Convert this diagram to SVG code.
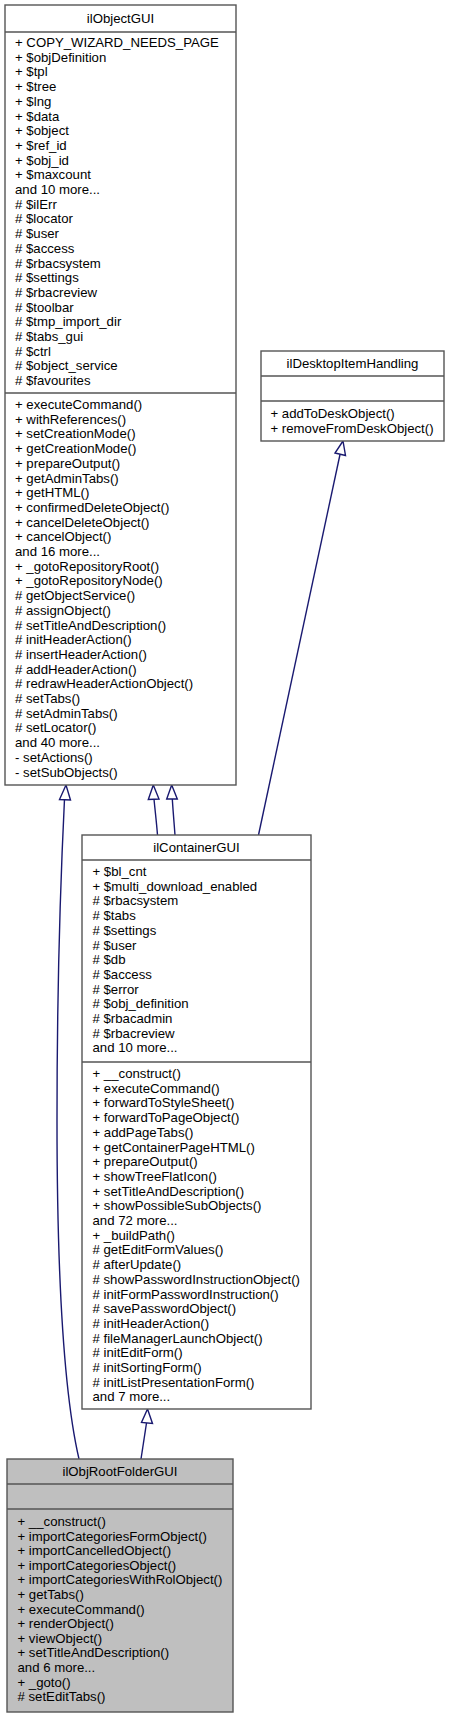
<svg xmlns="http://www.w3.org/2000/svg" width="450" height="1717" viewBox="0 0 450 1717">
<style>
.box{fill:#ffffff;stroke:#555555;stroke-width:1.4}
.root{fill:#bfbfbf;stroke:#555555;stroke-width:1.4}
.sep{stroke:#555555;stroke-width:1.4}
text{font-family:"Liberation Sans",Arial,sans-serif;font-size:13.2px;fill:#000000}
.t{text-anchor:middle}
.e{fill:none;stroke:#191970;stroke-width:1.4}
.h{fill:#ffffff;stroke:#191970;stroke-width:1.4}
</style>
<rect width="450" height="1717" fill="#ffffff"/>
<g id="connectors">
<path class="e" d="M79,1459 C63,1390 57,1260 57,1120 C57,980 61,870 64.5,799"/>
<polygon class="h" points="66,785 59.5,799.5 70.5,800"/>
<path class="e" d="M157.5,835 C156.5,822 155,810 154,799"/>
<polygon class="h" points="153.3,785 148.3,799.5 159,799"/>
<path class="e" d="M175,835 C174,822 173,810 172.3,799"/>
<polygon class="h" points="171.7,785 166.7,799 177.3,799"/>
<path class="e" d="M258.5,835 L340,454.5"/>
<polygon class="h" points="343,441 335,453 345.5,455.5"/>
<path class="e" d="M141,1459 L146.5,1423"/>
<polygon class="h" points="147.5,1409 141.5,1422.5 152.5,1423.5"/>
</g>
<g id="ilObjectGUI">
<rect class="box" x="5" y="5" width="231" height="780"/>
<line class="sep" x1="5" y1="32" x2="236" y2="32"/>
<line class="sep" x1="5" y1="393" x2="236" y2="393"/>
<text class="t" x="120.5" y="23">ilObjectGUI</text>
<text x="15" y="47">+ COPY_WIZARD_NEEDS_PAGE</text>
<text x="15" y="61.7">+ $objDefinition</text>
<text x="15" y="76.4">+ $tpl</text>
<text x="15" y="91.1">+ $tree</text>
<text x="15" y="105.8">+ $lng</text>
<text x="15" y="120.5">+ $data</text>
<text x="15" y="135.2">+ $object</text>
<text x="15" y="149.9">+ $ref_id</text>
<text x="15" y="164.6">+ $obj_id</text>
<text x="15" y="179.3">+ $maxcount</text>
<text x="15" y="194">and 10 more...</text>
<text x="15" y="208.7"># $ilErr</text>
<text x="15" y="223.4"># $locator</text>
<text x="15" y="238.1"># $user</text>
<text x="15" y="252.8"># $access</text>
<text x="15" y="267.5"># $rbacsystem</text>
<text x="15" y="282.2"># $settings</text>
<text x="15" y="296.9"># $rbacreview</text>
<text x="15" y="311.6"># $toolbar</text>
<text x="15" y="326.3"># $tmp_import_dir</text>
<text x="15" y="341"># $tabs_gui</text>
<text x="15" y="355.7"># $ctrl</text>
<text x="15" y="370.4"># $object_service</text>
<text x="15" y="385.1"># $favourites</text>
<text x="15" y="409">+ executeCommand()</text>
<text x="15" y="423.7">+ withReferences()</text>
<text x="15" y="438.4">+ setCreationMode()</text>
<text x="15" y="453.1">+ getCreationMode()</text>
<text x="15" y="467.8">+ prepareOutput()</text>
<text x="15" y="482.5">+ getAdminTabs()</text>
<text x="15" y="497.2">+ getHTML()</text>
<text x="15" y="511.9">+ confirmedDeleteObject()</text>
<text x="15" y="526.6">+ cancelDeleteObject()</text>
<text x="15" y="541.3">+ cancelObject()</text>
<text x="15" y="556">and 16 more...</text>
<text x="15" y="570.7">+ _gotoRepositoryRoot()</text>
<text x="15" y="585.4">+ _gotoRepositoryNode()</text>
<text x="15" y="600.1"># getObjectService()</text>
<text x="15" y="614.8"># assignObject()</text>
<text x="15" y="629.5"># setTitleAndDescription()</text>
<text x="15" y="644.2"># initHeaderAction()</text>
<text x="15" y="658.9"># insertHeaderAction()</text>
<text x="15" y="673.6"># addHeaderAction()</text>
<text x="15" y="688.3"># redrawHeaderActionObject()</text>
<text x="15" y="703"># setTabs()</text>
<text x="15" y="717.7"># setAdminTabs()</text>
<text x="15" y="732.4"># setLocator()</text>
<text x="15" y="747.1">and 40 more...</text>
<text x="15" y="761.8">- setActions()</text>
<text x="15" y="776.5">- setSubObjects()</text>
</g>
<g id="ilDesktopItemHandling">
<rect class="box" x="261" y="351" width="183" height="90"/>
<line class="sep" x1="261" y1="376" x2="444" y2="376"/>
<line class="sep" x1="261" y1="401" x2="444" y2="401"/>
<text class="t" x="352.5" y="368">ilDesktopItemHandling</text>
<text x="270.5" y="418">+ addToDeskObject()</text>
<text x="270.5" y="432.7">+ removeFromDeskObject()</text>
</g>
<g id="ilContainerGUI">
<rect class="box" x="82" y="835" width="229" height="574"/>
<line class="sep" x1="82" y1="860" x2="311" y2="860"/>
<line class="sep" x1="82" y1="1062" x2="311" y2="1062"/>
<text class="t" x="196.5" y="851.5">ilContainerGUI</text>
<text x="92.5" y="876">+ $bl_cnt</text>
<text x="92.5" y="890.7">+ $multi_download_enabled</text>
<text x="92.5" y="905.4"># $rbacsystem</text>
<text x="92.5" y="920.1"># $tabs</text>
<text x="92.5" y="934.8"># $settings</text>
<text x="92.5" y="949.5"># $user</text>
<text x="92.5" y="964.2"># $db</text>
<text x="92.5" y="978.9"># $access</text>
<text x="92.5" y="993.6"># $error</text>
<text x="92.5" y="1008.3"># $obj_definition</text>
<text x="92.5" y="1023"># $rbacadmin</text>
<text x="92.5" y="1037.7"># $rbacreview</text>
<text x="92.5" y="1052.4">and 10 more...</text>
<text x="92.5" y="1078">+ __construct()</text>
<text x="92.5" y="1092.7">+ executeCommand()</text>
<text x="92.5" y="1107.4">+ forwardToStyleSheet()</text>
<text x="92.5" y="1122.1">+ forwardToPageObject()</text>
<text x="92.5" y="1136.8">+ addPageTabs()</text>
<text x="92.5" y="1151.5">+ getContainerPageHTML()</text>
<text x="92.5" y="1166.2">+ prepareOutput()</text>
<text x="92.5" y="1180.9">+ showTreeFlatIcon()</text>
<text x="92.5" y="1195.6">+ setTitleAndDescription()</text>
<text x="92.5" y="1210.3">+ showPossibleSubObjects()</text>
<text x="92.5" y="1225">and 72 more...</text>
<text x="92.5" y="1239.7">+ _buildPath()</text>
<text x="92.5" y="1254.4"># getEditFormValues()</text>
<text x="92.5" y="1269.1"># afterUpdate()</text>
<text x="92.5" y="1283.8"># showPasswordInstructionObject()</text>
<text x="92.5" y="1298.5"># initFormPasswordInstruction()</text>
<text x="92.5" y="1313.2"># savePasswordObject()</text>
<text x="92.5" y="1327.9"># initHeaderAction()</text>
<text x="92.5" y="1342.6"># fileManagerLaunchObject()</text>
<text x="92.5" y="1357.3"># initEditForm()</text>
<text x="92.5" y="1372"># initSortingForm()</text>
<text x="92.5" y="1386.7"># initListPresentationForm()</text>
<text x="92.5" y="1401.4">and 7 more...</text>
</g>
<g id="ilObjRootFolderGUI">
<rect class="root" x="7" y="1459" width="226" height="253"/>
<line class="sep" x1="7" y1="1484" x2="233" y2="1484"/>
<line class="sep" x1="7" y1="1509" x2="233" y2="1509"/>
<text class="t" x="120" y="1475.5">ilObjRootFolderGUI</text>
<text x="17.5" y="1526">+ __construct()</text>
<text x="17.5" y="1540.6">+ importCategoriesFormObject()</text>
<text x="17.5" y="1555.2">+ importCancelledObject()</text>
<text x="17.5" y="1569.8">+ importCategoriesObject()</text>
<text x="17.5" y="1584.4">+ importCategoriesWithRolObject()</text>
<text x="17.5" y="1599">+ getTabs()</text>
<text x="17.5" y="1613.6">+ executeCommand()</text>
<text x="17.5" y="1628.2">+ renderObject()</text>
<text x="17.5" y="1642.8">+ viewObject()</text>
<text x="17.5" y="1657.4">+ setTitleAndDescription()</text>
<text x="17.5" y="1672">and 6 more...</text>
<text x="17.5" y="1686.6">+ _goto()</text>
<text x="17.5" y="1701.2"># setEditTabs()</text>
</g>
</svg>
